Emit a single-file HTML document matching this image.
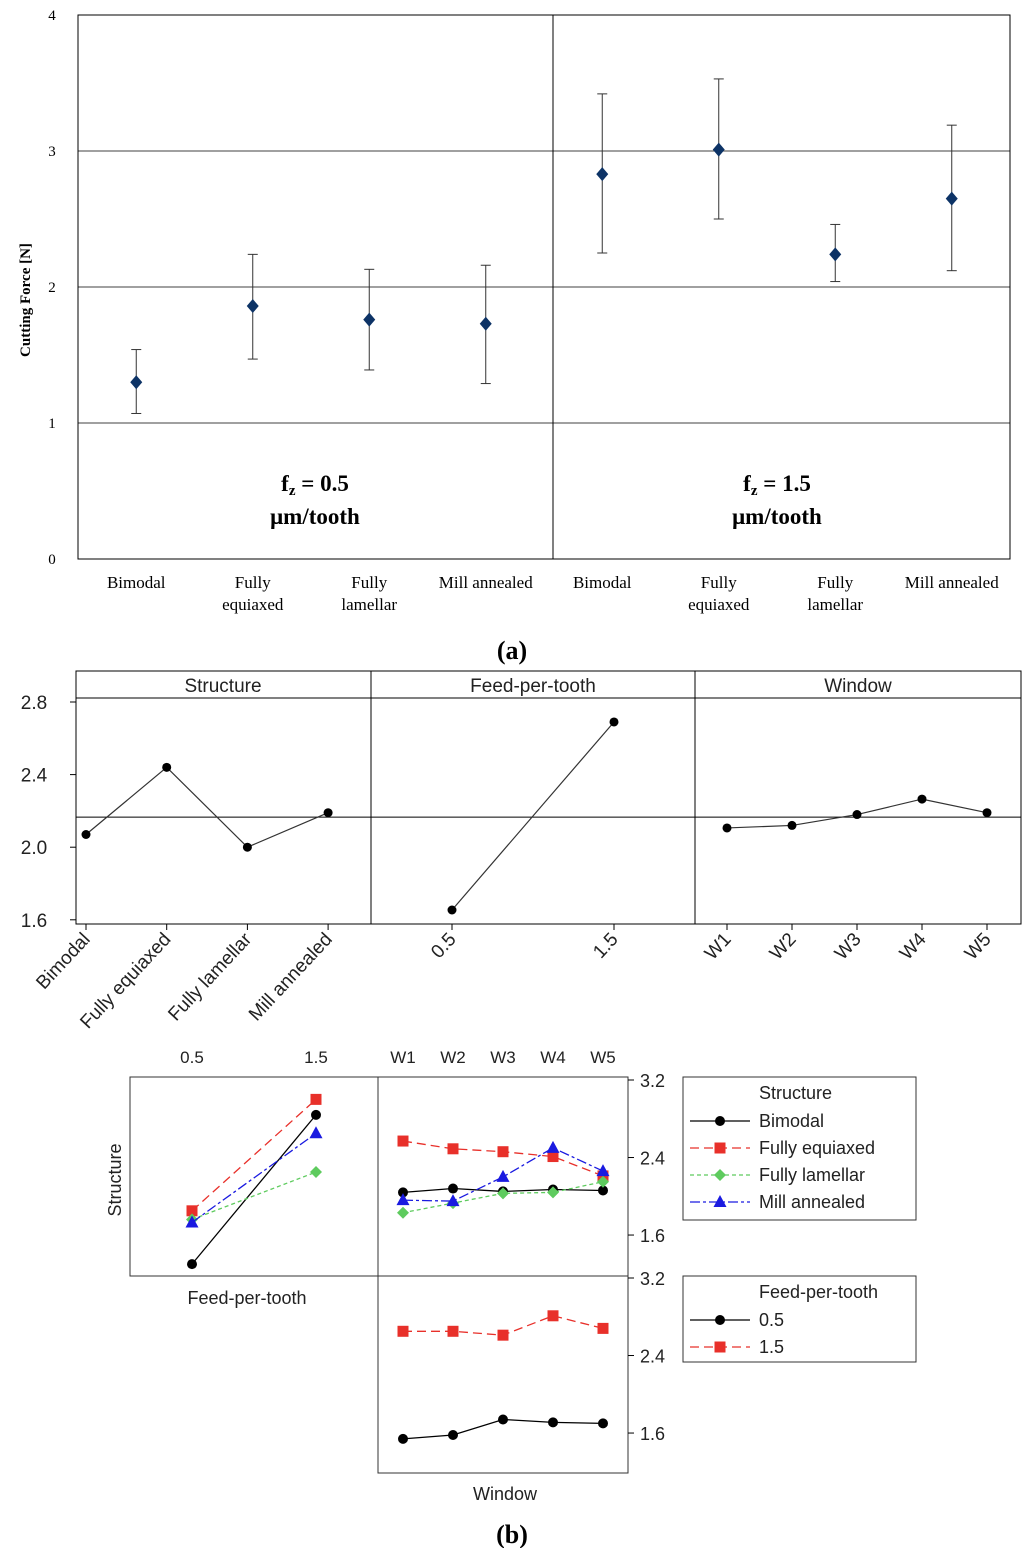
<!DOCTYPE html>
<html><head><meta charset="utf-8"><style>
body{margin:0;background:#fff;width:1024px;height:1548px;overflow:hidden}
svg{display:block}
.serif{font-family:"Liberation Serif",serif}
.sans{font-family:"Liberation Sans",sans-serif}
</style></head><body>
<svg id="fig" width="1024" height="1548" viewBox="0 0 1024 1548"></svg>
<script>
// ---- (a) data ----
const aCats = ["Bimodal","Fully equiaxed","Fully lamellar","Mill annealed","Bimodal","Fully equiaxed","Fully lamellar","Mill annealed"];
const aMean = [1.30,1.86,1.76,1.73,2.83,3.01,2.24,2.65];
const aLow  = [1.07,1.47,1.39,1.29,2.25,2.50,2.04,2.12];
const aHigh = [1.54,2.24,2.13,2.16,3.42,3.53,2.46,3.19];
const aTicks = [0,1,2,3,4];
// ---- (b) main effects ----
const meStructCats = ["Bimodal","Fully equiaxed","Fully lamellar","Mill annealed"];
const meStructVals = [2.07,2.44,2.00,2.19];
const meFeedCats = ["0.5","1.5"];
const meFeedVals = [1.654,2.69];
const meWinCats = ["W1","W2","W3","W4","W5"];
const meWinVals = [2.106,2.12,2.18,2.265,2.19];
const meMean = 2.166;
const meTicks = [1.6,2.0,2.4,2.8];
// ---- (b) interaction ----
const structNames = ["Bimodal","Fully equiaxed","Fully lamellar","Mill annealed"];
const feedByStruct05 = [1.30,1.85,1.76,1.73];
const feedByStruct15 = [2.84,3.00,2.25,2.65];
const winBimodal = [2.04,2.08,2.05,2.07,2.06];
const winFullyEq = [2.57,2.49,2.46,2.41,2.21];
const winFullyLam = [1.83,1.93,2.03,2.04,2.15];
const winMill = [1.96,1.95,2.20,2.50,2.26];
const winFeed05 = [1.54,1.58,1.74,1.71,1.70];
const winFeed15 = [2.65,2.65,2.61,2.81,2.68];
const intTicks = [1.6,2.4,3.2];

const NS="http://www.w3.org/2000/svg";
const svg=document.getElementById('fig');
function el(tag,attrs,parent,text){const e=document.createElementNS(NS,tag);for(const k in attrs)e.setAttribute(k,attrs[k]);if(text!==undefined)e.textContent=text;(parent||svg).appendChild(e);return e;}

// ===== (a) =====
const ay=v=>559-v*136;
const ax=i=>78+(i+0.5)*116.5;
let r=el('rect',{x:78,y:15,width:932,height:544,fill:'none',stroke:'#000','stroke-width':1});


let d=el('line',{x1:553,y1:15,x2:553,y2:559,stroke:'#000'});


aTicks.forEach(t=>{
  if(t>0&&t<4){const g=el('line',{x1:78,x2:1010,y1:ay(t),y2:ay(t),stroke:'#000','stroke-width':0.8});
  
  }
  const tx=el('text',{x:52,y:ay(t)+5,'text-anchor':'middle','font-size':15,class:'serif'},svg,String(t));
  
  
});
let yt=el('text',{x:0,y:0,transform:'translate(30,300) rotate(-90)','text-anchor':'middle','font-size':15,'font-weight':'bold',class:'serif'},svg,'Cutting Force [N]');


aCats.forEach((c,i)=>{
  const x=ax(i);
  const g=el('g',{});
  
  
  el('line',{x1:x,x2:x,y1:ay(aHigh[i]),y2:ay(aLow[i]),stroke:'#333'},g);
  el('line',{x1:x-5,x2:x+5,y1:ay(aHigh[i]),y2:ay(aHigh[i]),stroke:'#333'},g);
  el('line',{x1:x-5,x2:x+5,y1:ay(aLow[i]),y2:ay(aLow[i]),stroke:'#333'},g);
  const y=ay(aMean[i]);
  const p=el('polygon',{points:`${x},${y-7} ${x+6},${y} ${x},${y+7} ${x-6},${y}`,fill:'#0d3366'});
  
  
  const words=c.split(' ');
  const lines=c==='Mill annealed'?[c]:(words.length>1?words:[c]);
  lines.forEach((w,k)=>{const t=el('text',{x:x,y:588+k*22,'text-anchor':'middle','font-size':17,class:'serif'},svg,w);
    
    });
});
[[315,'0.5'],[777,'1.5']].forEach(([x,v])=>{
  const t=el('text',{x:x,y:491,'text-anchor':'middle','font-size':23,'font-weight':'bold',class:'serif'});
  
  
  el('tspan',{},t,'f');el('tspan',{'font-size':15,dy:4},t,'z');el('tspan',{dy:-4},t,' = '+v);
  const t2=el('text',{x:x,y:524,'text-anchor':'middle','font-size':23,'font-weight':'bold',class:'serif'},svg,'μm/tooth');
  
  
});
let la=el('text',{x:512,y:659,'text-anchor':'middle','font-size':26,class:'serif','font-weight':'bold'},svg,'(a)');



// ===== (b) main effects =====
const my=v=>702+(2.8-v)*181.5;
let mf=el('rect',{x:76,y:671,width:945,height:253,fill:'none',stroke:'#000'});


el('line',{x1:76,x2:1021,y1:698,y2:698,stroke:'#000'});
[371,695].forEach(x=>el('line',{x1:x,x2:x,y1:671,y2:924,stroke:'#000'}));
let ml=el('line',{x1:76,x2:1021,y1:my(meMean),y2:my(meMean),stroke:'#000'});


meTicks.forEach(t=>{el('line',{x1:70,x2:76,y1:my(t),y2:my(t),stroke:'#000'});
  const tx=el('text',{x:34,y:my(t)+7,'text-anchor':'middle','font-size':19,class:'sans',fill:'#222'},svg,t.toFixed(1));
  
  });
[[223,'Structure'],[533,'Feed-per-tooth'],[858,'Window']].forEach(([x,s])=>{
  const t=el('text',{x:x,y:692,'text-anchor':'middle','font-size':19,class:'sans',fill:'#222'},svg,s);
  
  });
function mePanel(cats,vals,x0,step,name){
  const xs=cats.map((c,i)=>x0+i*step);
  const pl=el('polyline',{points:xs.map((x,i)=>x+','+my(vals[i])).join(' '),fill:'none',stroke:'#333','stroke-width':1.2});
  
  
  xs.forEach((x,i)=>{
    const c=el('circle',{cx:x,cy:my(vals[i]),r:4.5,fill:'#000'});
    
    
    el('line',{x1:x,x2:x,y1:924,y2:930,stroke:'#000'});
    const t=el('text',{x:0,y:0,transform:`translate(${x+5},${940}) rotate(-47)`,'text-anchor':'end','font-size':19,class:'sans',fill:'#222'},svg,cats[i]);
    
    
  });
}
mePanel(meStructCats,meStructVals,86,80.7,'structure');
mePanel(meFeedCats,meFeedVals,452,162,'feed');
mePanel(meWinCats,meWinVals,727,65,'window');

// ===== (b) interaction =====
const iyU=v=>1080+(3.2-v)*96.9;
const iyL=v=>1278+(3.2-v)*96.9;
[[130,1077,248,199],[378,1077,250,199],[378,1276,250,197]].forEach(([x,y,w,h])=>{
  const f=el('rect',{x:x,y:y,width:w,height:h,fill:'none',stroke:'#333'});
  
  });
intTicks.forEach(t=>{[iyU,iyL].forEach(fn=>{
  el('line',{x1:628,x2:634,y1:fn(t),y2:fn(t),stroke:'#000'});
  const tx=el('text',{x:640,y:fn(t)+7,'font-size':18,class:'sans',fill:'#222'},svg,t.toFixed(1));
  
  });});
const feedX=[192,316];
meFeedCats.forEach((c,i)=>{const t=el('text',{x:feedX[i],y:1063,'text-anchor':'middle','font-size':17,class:'sans',fill:'#222'},svg,c);
  
  });
const winX=meWinCats.map((c,i)=>403+i*50);
meWinCats.forEach((c,i)=>{const t=el('text',{x:winX[i],y:1063,'text-anchor':'middle','font-size':17,class:'sans',fill:'#222'},svg,c);
  
  });
const styles=[
  {c:'#000',dash:'',m:'circle'},
  {c:'#e8302a',dash:'9,5',m:'square'},
  {c:'#5ecb5e',dash:'4,3',m:'diamond'},
  {c:'#1a1ae0',dash:'10,3,3,3',m:'triangle'}];
function marker(type,x,y,color,name){
  let e;
  if(type==='circle')e=el('circle',{cx:x,cy:y,r:5,fill:color});
  else if(type==='square')e=el('rect',{x:x-5.5,y:y-5.5,width:11,height:11,fill:color});
  else if(type==='diamond')e=el('polygon',{points:`${x},${y-6} ${x+6},${y} ${x},${y+6} ${x-6},${y}`,fill:color});
  else e=el('polygon',{points:`${x},${y-7} ${x+6.5},${y+5} ${x-6.5},${y+5}`,fill:color});
  
  
}
function series(xs,vals,fy,st,name){
  const pl=el('polyline',{points:xs.map((x,i)=>x+','+fy(vals[i])).join(' '),fill:'none',stroke:st.c,'stroke-width':1.3,'stroke-dasharray':st.dash});
  
  
  xs.forEach((x,i)=>marker(st.m,x,fy(vals[i]),st.c,name+'-point'));
}
[0,1,2,3].forEach(k=>series(feedX,[feedByStruct05[k],feedByStruct15[k]],iyU,styles[k],'feed-'+k));
[winBimodal,winFullyEq,winFullyLam,winMill].forEach((v,k)=>series(winX,v,iyU,styles[k],'window-struct-'+k));
series(winX,winFeed05,iyL,styles[0],'window-feed-05');
series(winX,winFeed15,iyL,styles[1],'window-feed-15');
let t1=el('text',{x:0,y:0,transform:'translate(121,1180) rotate(-90)','text-anchor':'middle','font-size':18,class:'sans',fill:'#222'},svg,'Structure');


let t2=el('text',{x:247,y:1304,'text-anchor':'middle','font-size':18,class:'sans',fill:'#222'},svg,'Feed-per-tooth');


let t3=el('text',{x:505,y:1500,'text-anchor':'middle','font-size':18,class:'sans',fill:'#222'},svg,'Window');


function legend(y,h,title,names,sts,name){
  const g=el('g',{});
  
  
  el('rect',{x:683,y:y,width:233,height:h,fill:'#fff',stroke:'#333'},g);
  el('text',{x:759,y:y+22,'font-size':18,class:'sans',fill:'#222'},g,title);
  names.forEach((n,i)=>{
    const yy=y+44+i*27;
    el('line',{x1:690,x2:750,y1:yy,y2:yy,stroke:sts[i].c,'stroke-width':1.3,'stroke-dasharray':sts[i].dash},g);
    marker(sts[i].m,720,yy,sts[i].c,'legend-marker');
    const t=el('text',{x:759,y:yy+6,'font-size':18,class:'sans',fill:'#222'},g,n);
    
    
  });
}
legend(1077,143,'Structure',structNames,styles,'structure-legend');
legend(1276,86,'Feed-per-tooth',meFeedCats,styles,'feed-legend');
let lb=el('text',{x:512,y:1543,'text-anchor':'middle','font-size':26,class:'serif','font-weight':'bold'},svg,'(b)');


</script>
</body></html>
